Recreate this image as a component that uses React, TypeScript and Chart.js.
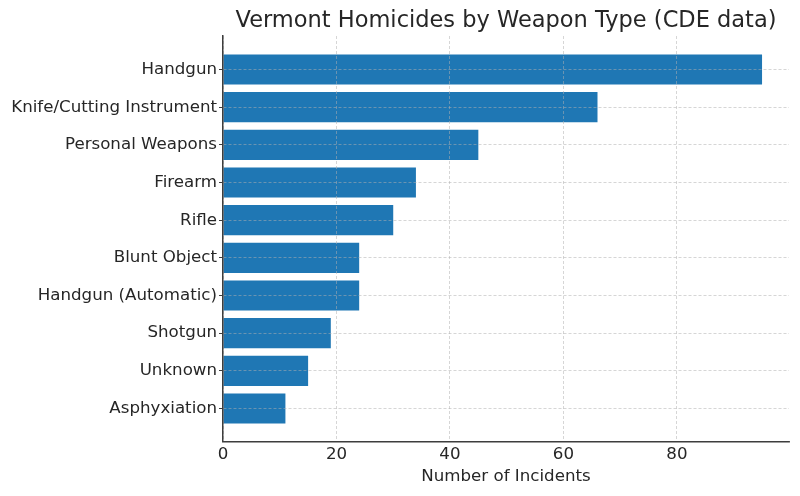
import React, { useEffect, useRef } from 'react';
import { Chart, registerables } from 'chart.js';
Chart.register(...registerables);

const categories = [
  'Handgun',
  'Knife/Cutting Instrument',
  'Personal Weapons',
  'Firearm',
  'Rifle',
  'Blunt Object',
  'Handgun (Automatic)',
  'Shotgun',
  'Unknown',
  'Asphyxiation',
];
const incidents = [95, 66, 45, 34, 30, 24, 24, 19, 15, 11];
const xTickValues = [0, 20, 40, 60, 80];
const titleText = 'Vermont Homicides by Weapon Type (CDE data)';
const xAxisTitle = 'Number of Incidents';

const FONT = "'DejaVu Sans', sans-serif";
const TEXT = '#262626';
const SPINE = '#3d3d3d';
const GRID = 'rgba(176,176,176,0.65)';

export default function App() {
  const ref = useRef<HTMLCanvasElement>(null);
  useEffect(() => {
    const xMax = Math.max(...incidents) * 1.05;
    const n = categories.length;
    const margin = (n - 1 + 0.8) * 0.05;
    const chart = new Chart(ref.current!, {
      type: 'bar',
      data: {
        datasets: [
          {
            data: incidents.map((v, i) => ({ x: v, y: i })),
            backgroundColor: '#1f77b4',
            borderWidth: 0,
            barPercentage: 0.8,
            categoryPercentage: 1,
          },
        ],
      },
      options: {
        indexAxis: 'y',
        animation: false,
        responsive: false,
        maintainAspectRatio: false,
        layout: { padding: { left: 0, right: 11, top: 0, bottom: 9 } },
        plugins: {
          legend: { display: false },
          tooltip: { enabled: false },
          title: {
            display: true,
            text: titleText,
            fullSize: false,
            color: TEXT,
            font: { family: FONT, size: 22.5, weight: 'normal' },
            padding: { top: 8, bottom: 1 },
          },
        },
        scales: {
          x: {
            type: 'linear',
            position: 'bottom',
            min: 0,
            max: xMax,
            offset: false,
            afterBuildTicks: (scale: any) => {
              scale.ticks = xTickValues.map((v) => ({ value: v }));
            },
            ticks: {
              color: TEXT,
              font: { family: FONT, size: 16.67 },
              padding: 0,
              maxRotation: 0,
              autoSkip: false,
            },
            grid: {
              z: 1,
              offset: false,
              color: GRID,
              lineWidth: 0.8,
              drawTicks: true,
              tickLength: 3,
              tickColor: 'rgba(0,0,0,0)',
              tickBorderDash: [],
            } as any,
            border: { display: true, color: SPINE, width: 1.5, z: 2, dash: [3, 2] } as any,
            title: {
              display: true,
              text: xAxisTitle,
              color: TEXT,
              font: { family: FONT, size: 16.67 },
              padding: { top: 2, bottom: 0 },
            },
          },
          y: {
            type: 'linear',
            reverse: true,
            offset: false,
            min: -0.4 - margin,
            max: n - 1 + 0.4 + margin,
            afterBuildTicks: (scale: any) => {
              scale.ticks = categories.map((_, i) => ({ value: i }));
            },
            afterFit: (scale: any) => {
              scale.width = 223;
            },
            ticks: {
              color: TEXT,
              font: { family: FONT, size: 16.67 },
              padding: 2,
              autoSkip: false,
              callback: (v: any) => categories[v as number] ?? '',
            },
            grid: {
              z: 1,
              offset: false,
              color: GRID,
              lineWidth: 0.8,
              drawTicks: true,
              tickLength: 4,
              tickColor: SPINE,
              tickWidth: 1,
              tickBorderDash: [],
            } as any,
            border: { display: true, color: SPINE, width: 1.5, z: 2, dash: [3, 2] } as any,
          },
        },
      },
    });
    return () => chart.destroy();
  }, []);
  return (
    <div style={{ position: 'absolute', left: 0, top: 0, width: 800, height: 496, background: '#fff' }}>
      <canvas ref={ref} width={800} height={496} style={{ width: 800, height: 496, display: 'block' }} />
    </div>
  );
}
